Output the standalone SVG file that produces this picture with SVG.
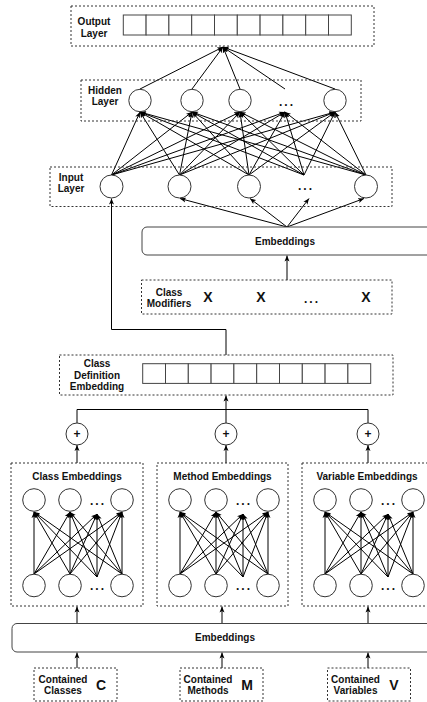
<svg xmlns="http://www.w3.org/2000/svg" width="427" height="702" viewBox="0 0 427 702">
<style>
.dash{fill:none;stroke:#333;stroke-width:1;stroke-dasharray:2 2}
.cell{fill:#fff;stroke:#444;stroke-width:1}
.nd{fill:#fff;stroke:#333;stroke-width:1}
.rb{fill:#fff;stroke:#444;stroke-width:1}
.t{font-family:"Liberation Sans",Arial,sans-serif;font-weight:bold;font-size:10px;fill:#111;text-anchor:middle}
.big{font-family:"Liberation Sans",Arial,sans-serif;font-weight:bold;font-size:14px;fill:#111;text-anchor:middle}
.dots{font-family:"Liberation Sans",Arial,sans-serif;font-weight:bold;font-size:12px;fill:#111;text-anchor:middle;letter-spacing:2px}
.c{fill:none;stroke:#000;stroke-width:1}
.a{fill:none;stroke:#000;stroke-width:1;marker-end:url(#ah)}
</style>
<defs>
<marker id="ah" markerUnits="userSpaceOnUse" markerWidth="7" markerHeight="6" refX="6" refY="3" orient="auto">
<path d="M0,0.5 L6,3 L0,5.5 L1.5,3 z" fill="#000"/>
</marker>
</defs>

<g id="connectors">
<!-- hidden to output -->
<line class="a" x1="140" y1="89" x2="223" y2="47"/>
<line class="a" x1="192" y1="89" x2="223" y2="47"/>
<line class="a" x1="240" y1="89" x2="223" y2="47"/>
<line class="a" x1="285" y1="89" x2="223" y2="47"/>
<line class="a" x1="335" y1="89" x2="223" y2="47"/>
<!-- input to hidden -->
<g>
<line class="a" x1="111.5" y1="175" x2="140" y2="112"/><line class="a" x1="111.5" y1="175" x2="192" y2="112"/><line class="a" x1="111.5" y1="175" x2="240" y2="112"/><line class="a" x1="111.5" y1="175" x2="285" y2="112"/><line class="a" x1="111.5" y1="175" x2="335" y2="112"/>
<line class="a" x1="179.5" y1="175" x2="140" y2="112"/><line class="a" x1="179.5" y1="175" x2="192" y2="112"/><line class="a" x1="179.5" y1="175" x2="240" y2="112"/><line class="a" x1="179.5" y1="175" x2="285" y2="112"/><line class="a" x1="179.5" y1="175" x2="335" y2="112"/>
<line class="a" x1="249" y1="175" x2="140" y2="112"/><line class="a" x1="249" y1="175" x2="192" y2="112"/><line class="a" x1="249" y1="175" x2="240" y2="112"/><line class="a" x1="249" y1="175" x2="285" y2="112"/><line class="a" x1="249" y1="175" x2="335" y2="112"/>
<line class="a" x1="304" y1="175" x2="140" y2="112"/><line class="a" x1="304" y1="175" x2="192" y2="112"/><line class="a" x1="304" y1="175" x2="240" y2="112"/><line class="a" x1="304" y1="175" x2="285" y2="112"/><line class="a" x1="304" y1="175" x2="335" y2="112"/>
<line class="a" x1="366" y1="175" x2="140" y2="112"/><line class="a" x1="366" y1="175" x2="192" y2="112"/><line class="a" x1="366" y1="175" x2="240" y2="112"/><line class="a" x1="366" y1="175" x2="285" y2="112"/><line class="a" x1="366" y1="175" x2="335" y2="112"/>
</g>
<!-- embeddings to input -->
<line class="a" x1="287" y1="227" x2="180" y2="198.5"/>
<line class="a" x1="287" y1="227" x2="250" y2="198.5"/>
<line class="a" x1="287" y1="227" x2="309" y2="198.5"/>
<line class="a" x1="287" y1="227" x2="364" y2="198.5"/>
<!-- modifiers to embeddings -->
<line class="a" x1="287" y1="280" x2="287" y2="255.5"/>
<!-- class def to input -->
<path class="a" d="M226,355 V329.5 H111.5 V198.5"/>
<!-- plus to class def -->
<path class="c" d="M77,423 V409.5 H368 V423"/>
<line class="a" x1="226" y1="423" x2="226" y2="395.5"/>
<!-- boxes to plus -->
<line class="a" x1="77" y1="463" x2="77" y2="445"/>
<line class="a" x1="226" y1="463" x2="226" y2="445"/>
<line class="a" x1="368" y1="463" x2="368" y2="445"/>
<!-- embeddings to boxes -->
<line class="a" x1="77" y1="623" x2="77" y2="606.5"/>
<line class="a" x1="222" y1="623" x2="222" y2="606.5"/>
<line class="a" x1="368" y1="623" x2="368" y2="606.5"/>
<!-- contained to embeddings -->
<line class="a" x1="77" y1="668" x2="77" y2="652.5"/>
<line class="a" x1="222" y1="668" x2="222" y2="652.5"/>
<line class="a" x1="368" y1="668" x2="368" y2="652.5"/>
</g>

<g id="output-layer">
<rect class="dash" x="71" y="6" width="303" height="40"/>
<text class="t" x="94" y="25">Output</text>
<text class="t" x="94" y="36.5">Layer</text>
<g>
<rect class="cell" x="123.3" y="15" width="22.8" height="20"/><rect class="cell" x="146.1" y="15" width="22.8" height="20"/><rect class="cell" x="168.9" y="15" width="22.8" height="20"/><rect class="cell" x="191.7" y="15" width="22.8" height="20"/><rect class="cell" x="214.5" y="15" width="22.8" height="20"/><rect class="cell" x="237.3" y="15" width="22.8" height="20"/><rect class="cell" x="260.1" y="15" width="22.8" height="20"/><rect class="cell" x="282.9" y="15" width="22.8" height="20"/><rect class="cell" x="305.7" y="15" width="22.8" height="20"/><rect class="cell" x="328.5" y="15" width="22.8" height="20"/>
</g>
</g>

<g id="hidden-layer">
<rect class="dash" x="81" y="80" width="280" height="41"/>
<text class="t" x="105" y="93.5">Hidden</text>
<text class="t" x="105" y="104.5">Layer</text>
<circle class="nd" cx="140" cy="100.5" r="11.2"/>
<circle class="nd" cx="192" cy="100.5" r="11.2"/>
<circle class="nd" cx="240" cy="100.5" r="11.2"/>
<text class="dots" x="287" y="106">...</text>
<circle class="nd" cx="335" cy="100.5" r="11.2"/>
</g>

<g id="input-layer">
<rect class="dash" x="50" y="167" width="342" height="39.5"/>
<text class="t" x="71" y="181">Input</text>
<text class="t" x="71" y="192">Layer</text>
<circle class="nd" cx="111.5" cy="186.5" r="11.5"/>
<circle class="nd" cx="179.5" cy="186.5" r="11.5"/>
<circle class="nd" cx="249" cy="186.5" r="11.5"/>
<text class="dots" x="306" y="190">...</text>
<circle class="nd" cx="366" cy="186.5" r="11.5"/>
</g>

<g id="embeddings-top">
<rect class="rb" x="142" y="227" width="300" height="28" rx="5"/>
<text class="t" x="285" y="244.5">Embeddings</text>
</g>

<g id="class-modifiers">
<rect class="dash" x="141.5" y="280" width="250.5" height="34"/>
<text class="t" x="169" y="295.5">Class</text>
<text class="t" x="169" y="306.5">Modifiers</text>
<text class="big" x="208" y="302">X</text>
<text class="big" x="261" y="302">X</text>
<text class="dots" x="312" y="303">...</text>
<text class="big" x="366" y="302">X</text>
</g>

<g id="class-definition-embedding">
<rect class="dash" x="59.5" y="355" width="333.5" height="40"/>
<text class="t" x="97" y="367">Class</text>
<text class="t" x="97" y="378.5">Definition</text>
<text class="t" x="97" y="390">Embedding</text>
<g>
<rect class="cell" x="142.7" y="363.7" width="22.8" height="19.7"/><rect class="cell" x="165.5" y="363.7" width="22.8" height="19.7"/><rect class="cell" x="188.3" y="363.7" width="22.8" height="19.7"/><rect class="cell" x="211.1" y="363.7" width="22.8" height="19.7"/><rect class="cell" x="233.9" y="363.7" width="22.8" height="19.7"/><rect class="cell" x="256.7" y="363.7" width="22.8" height="19.7"/><rect class="cell" x="279.5" y="363.7" width="22.8" height="19.7"/><rect class="cell" x="302.3" y="363.7" width="22.8" height="19.7"/><rect class="cell" x="325.1" y="363.7" width="22.8" height="19.7"/><rect class="cell" x="347.9" y="363.7" width="22.8" height="19.7"/>
</g>
</g>

<g id="plus-class">
<circle class="nd" cx="77" cy="434" r="11"/>
<text class="t" x="77" y="438" style="font-size:12px">+</text>
</g>
<g id="plus-method">
<circle class="nd" cx="226" cy="434" r="11"/>
<text class="t" x="226" y="438" style="font-size:12px">+</text>
</g>
<g id="plus-variable">
<circle class="nd" cx="368" cy="434" r="11"/>
<text class="t" x="368" y="438" style="font-size:12px">+</text>
</g>

<g id="class-embeddings">
<rect class="dash" x="11" y="463" width="132" height="143"/>
<text class="t" x="77" y="480">Class Embeddings</text>
<g>
<line class="a" x1="34" y1="574" x2="34" y2="512"/><line class="a" x1="34" y1="574" x2="70" y2="512"/><line class="a" x1="34" y1="574" x2="97" y2="514"/><line class="a" x1="34" y1="574" x2="122" y2="512"/>
<line class="a" x1="70" y1="574" x2="34" y2="512"/><line class="a" x1="70" y1="574" x2="70" y2="512"/><line class="a" x1="70" y1="574" x2="97" y2="514"/><line class="a" x1="70" y1="574" x2="122" y2="512"/>
<line class="a" x1="97" y1="577" x2="34" y2="512"/><line class="a" x1="97" y1="577" x2="70" y2="512"/><line class="a" x1="97" y1="577" x2="97" y2="514"/><line class="a" x1="97" y1="577" x2="122" y2="512"/>
<line class="a" x1="122" y1="574" x2="34" y2="512"/><line class="a" x1="122" y1="574" x2="70" y2="512"/><line class="a" x1="122" y1="574" x2="97" y2="514"/><line class="a" x1="122" y1="574" x2="122" y2="512"/>
</g>
<circle class="nd" cx="34" cy="500" r="11.3"/><circle class="nd" cx="70" cy="500" r="11.3"/><text class="dots" x="98" y="505">...</text><circle class="nd" cx="122" cy="500" r="11.3"/>
<circle class="nd" cx="34" cy="585.5" r="11.3"/><circle class="nd" cx="70" cy="585.5" r="11.3"/><text class="dots" x="98" y="590">...</text><circle class="nd" cx="122" cy="585.5" r="11.3"/>
</g>

<g id="method-embeddings">
<rect class="dash" x="157" y="463" width="131" height="143"/>
<text class="t" x="222.5" y="480">Method Embeddings</text>
<g>
<line class="a" x1="180" y1="574" x2="180" y2="512"/><line class="a" x1="180" y1="574" x2="216" y2="512"/><line class="a" x1="180" y1="574" x2="243" y2="514"/><line class="a" x1="180" y1="574" x2="268" y2="512"/>
<line class="a" x1="216" y1="574" x2="180" y2="512"/><line class="a" x1="216" y1="574" x2="216" y2="512"/><line class="a" x1="216" y1="574" x2="243" y2="514"/><line class="a" x1="216" y1="574" x2="268" y2="512"/>
<line class="a" x1="243" y1="577" x2="180" y2="512"/><line class="a" x1="243" y1="577" x2="216" y2="512"/><line class="a" x1="243" y1="577" x2="243" y2="514"/><line class="a" x1="243" y1="577" x2="268" y2="512"/>
<line class="a" x1="268" y1="574" x2="180" y2="512"/><line class="a" x1="268" y1="574" x2="216" y2="512"/><line class="a" x1="268" y1="574" x2="243" y2="514"/><line class="a" x1="268" y1="574" x2="268" y2="512"/>
</g>
<circle class="nd" cx="180" cy="500" r="11.3"/><circle class="nd" cx="216" cy="500" r="11.3"/><text class="dots" x="244" y="505">...</text><circle class="nd" cx="268" cy="500" r="11.3"/>
<circle class="nd" cx="180" cy="585.5" r="11.3"/><circle class="nd" cx="216" cy="585.5" r="11.3"/><text class="dots" x="244" y="590">...</text><circle class="nd" cx="268" cy="585.5" r="11.3"/>
</g>

<g id="variable-embeddings">
<rect class="dash" x="302" y="463" width="132" height="143"/>
<text class="t" x="367" y="480">Variable Embeddings</text>
<g>
<line class="a" x1="325" y1="574" x2="325" y2="512"/><line class="a" x1="325" y1="574" x2="361" y2="512"/><line class="a" x1="325" y1="574" x2="388" y2="514"/><line class="a" x1="325" y1="574" x2="413" y2="512"/>
<line class="a" x1="361" y1="574" x2="325" y2="512"/><line class="a" x1="361" y1="574" x2="361" y2="512"/><line class="a" x1="361" y1="574" x2="388" y2="514"/><line class="a" x1="361" y1="574" x2="413" y2="512"/>
<line class="a" x1="388" y1="577" x2="325" y2="512"/><line class="a" x1="388" y1="577" x2="361" y2="512"/><line class="a" x1="388" y1="577" x2="388" y2="514"/><line class="a" x1="388" y1="577" x2="413" y2="512"/>
<line class="a" x1="413" y1="574" x2="325" y2="512"/><line class="a" x1="413" y1="574" x2="361" y2="512"/><line class="a" x1="413" y1="574" x2="388" y2="514"/><line class="a" x1="413" y1="574" x2="413" y2="512"/>
</g>
<circle class="nd" cx="325" cy="500" r="11.3"/><circle class="nd" cx="361" cy="500" r="11.3"/><text class="dots" x="389" y="505">...</text><circle class="nd" cx="413" cy="500" r="11.3"/>
<circle class="nd" cx="325" cy="585.5" r="11.3"/><circle class="nd" cx="361" cy="585.5" r="11.3"/><text class="dots" x="389" y="590">...</text><circle class="nd" cx="413" cy="585.5" r="11.3"/>
</g>

<g id="embeddings-bottom">
<rect class="rb" x="12" y="623.5" width="430" height="28.5" rx="5"/>
<text class="t" x="225" y="641">Embeddings</text>
</g>

<g id="contained-classes">
<rect class="dash" x="34" y="668" width="83" height="33"/>
<text class="t" x="63" y="682.5">Contained</text>
<text class="t" x="63" y="693.5">Classes</text>
<text class="big" x="101" y="690">C</text>
</g>
<g id="contained-methods">
<rect class="dash" x="180" y="668" width="83" height="33"/>
<text class="t" x="208" y="682.5">Contained</text>
<text class="t" x="208" y="693.5">Methods</text>
<text class="big" x="247" y="690">M</text>
</g>
<g id="contained-variables">
<rect class="dash" x="327.5" y="668" width="83" height="33"/>
<text class="t" x="355.5" y="682.5">Contained</text>
<text class="t" x="355.5" y="693.5">Variables</text>
<text class="big" x="394" y="690">V</text>
</g>
</svg>
